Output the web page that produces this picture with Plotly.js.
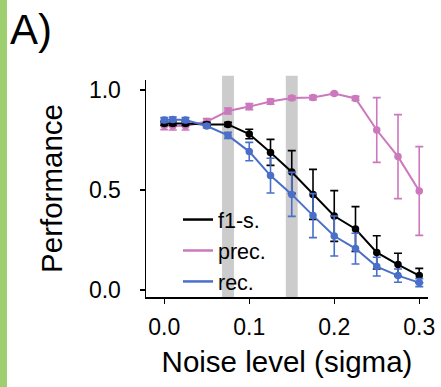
<!DOCTYPE html>
<html><head><meta charset="utf-8">
<script src="https://cdn.plot.ly/plotly-3.0.1.min.js"></script>
<style>html,body{margin:0;padding:0;background:#fff}#plot{width:441px;height:387px}</style>
</head><body><div id="plot"></div>
<script>
const noise = [0, 0.01, 0.025, 0.05, 0.075, 0.1, 0.125, 0.15, 0.175, 0.2, 0.225, 0.25, 0.275, 0.3];
const f1 = [0.833, 0.833, 0.833, 0.828, 0.828, 0.78, 0.688, 0.59, 0.478, 0.37, 0.305, 0.188, 0.127, 0.072];
const f1Err = [0.01, 0.01, 0.01, 0.01, 0.01, 0.024, 0.065, 0.107, 0.125, 0.127, 0.112, 0.083, 0.057, 0.036];
const prec = [0.822, 0.82, 0.82, 0.842, 0.895, 0.917, 0.942, 0.96, 0.962, 0.982, 0.958, 0.80, 0.667, 0.495];
const precErr = [0.02, 0.02, 0.02, 0.015, 0.015, 0.015, 0.013, 0.01, 0.01, 0.005, 0.01, 0.162, 0.21, 0.222];
const rec = [0.85, 0.853, 0.85, 0.82, 0.773, 0.692, 0.572, 0.478, 0.372, 0.27, 0.207, 0.117, 0.072, 0.037];
const recErr = [0.012, 0.012, 0.012, 0.01, 0.015, 0.046, 0.087, 0.11, 0.11, 0.1, 0.077, 0.047, 0.033, 0.02];
const seriesNames = ['f1-s.', 'prec.', 'rec.'];
const highlightNoise = [0.075, 0.15];

const colors = {f1: '#000000', prec: '#cc78bc', rec: '#4a6fc9'};
const FONT = 'Liberation Sans, Arial, sans-serif';

function markerTrace(y, err, color) {
  return {x: noise, y: y, type: 'scatter', mode: 'lines+markers', showlegend: false,
    line: {color: color, width: 2}, marker: {color: color, size: 7.5},
    error_y: {type: 'data', array: err, visible: true, color: color, thickness: 1.6, width: 4}};
}
function legendTrace(name, color) {
  return {x: [null], y: [null], type: 'scatter', mode: 'lines', name: name,
    line: {color: color, width: 2.5}, showlegend: true};
}

const data = [
  markerTrace(prec, precErr, colors.prec),
  markerTrace(f1, f1Err, colors.f1),
  markerTrace(rec, recErr, colors.rec),
  legendTrace(seriesNames[0], colors.f1),
  legendTrace(seriesNames[1], colors.prec),
  legendTrace(seriesNames[2], colors.rec)
];

const bandHalf = 0.007;
const shapes = highlightNoise.map(v => ({
  type: 'rect', xref: 'x', yref: 'paper', x0: v - bandHalf, x1: v + bandHalf,
  y0: 0, y1: 1.02, fillcolor: '#cccccc', line: {width: 0}, layer: 'below'
}));
shapes.push({type: 'rect', xref: 'paper', yref: 'paper', x0: -0.5177, x1: -0.4929,
  y0: -0.42, y1: 1.37, fillcolor: '#9dcf6f', line: {width: 0}, layer: 'below'});

const layout = {
  width: 441, height: 387,
  margin: {l: 146, r: 13, t: 80, b: 90},
  paper_bgcolor: '#fff', plot_bgcolor: '#fff',
  font: {family: FONT, color: '#000', size: 22},
  showlegend: true,
  legend: {x: 0.1135, y: 0.214, xanchor: 'left', yanchor: 'middle', bgcolor: 'rgba(0,0,0,0)',
    font: {size: 21.5, family: FONT, color: '#000'}, tracegroupgap: 0, itemwidth: 30},
  xaxis: {range: [-0.0215, 0.3103], showgrid: false, zeroline: false, showline: true,
    linecolor: '#000', linewidth: 1.5, ticks: 'outside', ticklen: 5, tickwidth: 1.5, tickcolor: '#000',
    tickvals: [0, 0.1, 0.2, 0.3], ticktext: ['0.0', '0.1', '0.2', '0.3'],
    tickfont: {size: 23, family: FONT}, ticklabelstandoff: 4,
    title: {text: 'Noise level (sigma)', font: {size: 29.5, family: FONT}, standoff: 12}},
  yaxis: {range: [-0.035, 1.05], showgrid: false, zeroline: false, showline: true,
    linecolor: '#000', linewidth: 1.5, ticks: 'outside', ticklen: 5, tickwidth: 1.5, tickcolor: '#000',
    tickvals: [0, 0.5, 1.0], ticktext: ['0.0', '0.5', '1.0'],
    tickfont: {size: 23, family: FONT}, ticklabelstandoff: 14,
    title: {text: 'Performance', font: {size: 29.5, family: FONT}, standoff: 17}},
  shapes: shapes,
  annotations: [{text: 'A)', xref: 'paper', yref: 'paper', x: -0.489, y: 1.235,
    xanchor: 'left', yanchor: 'middle', showarrow: false, font: {size: 42, family: FONT, color: '#000'}}]
};

Plotly.newPlot('plot', data, layout, {displayModeBar: false, staticPlot: true});
</script></body></html>
